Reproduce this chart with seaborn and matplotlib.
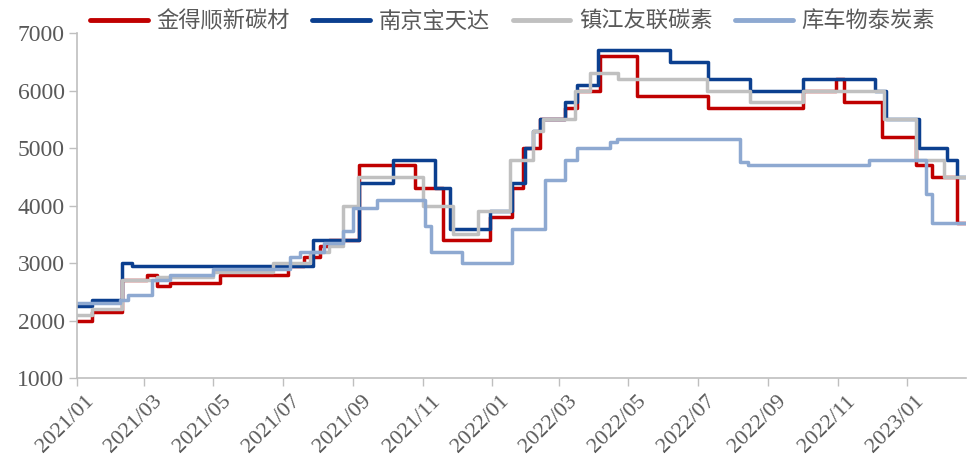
import matplotlib
matplotlib.use('Agg')
import matplotlib.pyplot as plt
import matplotlib.dates as mdates
import matplotlib.transforms as mtransforms
import seaborn as sns
import pandas as pd

series_names = ['金得顺新碳材', '南京宝天达', '镇江友联碳素', '库车物泰炭素']
colors = ['#C00000', '#0B3F8F', '#C0C0C0', '#8EA9D1']
end_date = '2023-02-22'

jds_dates = ['2021-01-01', '2021-01-14', '2021-02-10', '2021-03-04', '2021-03-12', '2021-03-24',
             '2021-05-07', '2021-07-06', '2021-07-20', '2021-08-03', '2021-08-11', '2021-09-06',
             '2021-10-25', '2021-11-19', '2021-12-30', '2022-01-19', '2022-01-28', '2022-02-12',
             '2022-03-06', '2022-03-17', '2022-04-06', '2022-05-09', '2022-07-10', '2022-10-02',
             '2022-10-31', '2022-11-07', '2022-12-10', '2023-01-09', '2023-01-23', '2023-02-14']
jds_vals = [2000, 2150, 2700, 2800, 2600, 2650,
            2800, 2950, 3100, 3300, 3400, 4700,
            4300, 3400, 3800, 4300, 5000, 5500,
            5700, 6000, 6600, 5900, 5700, 6000,
            6200, 5800, 5200, 4700, 4500, 3700]

njbtd_dates = ['2021-01-01', '2021-01-14', '2021-02-10', '2021-02-18', '2021-07-28', '2021-09-06',
               '2021-10-06', '2021-11-12', '2021-11-25', '2021-12-30', '2022-01-19', '2022-01-30',
               '2022-02-06', '2022-02-12', '2022-03-06', '2022-03-17', '2022-04-04', '2022-06-07',
               '2022-07-10', '2022-08-16', '2022-10-02', '2022-12-04', '2022-12-14', '2023-01-12',
               '2023-02-05', '2023-02-14']
njbtd_vals = [2250, 2350, 3000, 2950, 3400, 4400,
              4800, 4300, 3600, 3900, 4400, 5000,
              5300, 5500, 5800, 6100, 6700, 6500,
              6200, 6000, 6200, 6000, 5500, 5000,
              4800, 4500]

zjyl_dates = ['2021-01-01', '2021-01-14', '2021-02-10', '2021-03-12', '2021-05-01', '2021-06-22',
              '2021-07-25', '2021-08-11', '2021-08-23', '2021-09-05', '2021-11-01', '2021-11-28',
              '2021-12-20', '2022-01-17', '2022-02-06', '2022-02-15', '2022-03-15', '2022-03-28',
              '2022-04-22', '2022-07-09', '2022-08-16', '2022-10-02', '2022-12-12', '2023-01-09',
              '2023-02-03']
zjyl_vals = [2100, 2200, 2700, 2750, 2850, 3000,
             3200, 3300, 4000, 4500, 4000, 3500,
             3900, 4800, 5300, 5500, 6000, 6300,
             6200, 6000, 5800, 6000, 5500, 4800,
             4500]

kcwt_dates = ['2021-01-01', '2021-02-08', '2021-02-15', '2021-03-08', '2021-03-24', '2021-05-01',
              '2021-07-07', '2021-07-16', '2021-08-06', '2021-08-23', '2021-09-01', '2021-09-22',
              '2021-11-03', '2021-11-08', '2021-12-06', '2022-01-19', '2022-02-17', '2022-03-06',
              '2022-03-17', '2022-04-15', '2022-04-21', '2022-08-07', '2022-08-14', '2022-11-29',
              '2023-01-18', '2023-01-23']
kcwt_vals = [2300, 2350, 2450, 2700, 2800, 2900,
             3100, 3200, 3350, 3550, 3950, 4100,
             3650, 3200, 3000, 3600, 4450, 4800,
             5000, 5100, 5150, 4750, 4700, 4800,
             4200, 3700]

sns.set_theme(style='white')
plt.rcParams['font.family'] = ['Liberation Serif', 'Noto Sans CJK SC']

frames = []
for name, d, v in zip(series_names,
                      [jds_dates, njbtd_dates, zjyl_dates, kcwt_dates],
                      [jds_vals, njbtd_vals, zjyl_vals, kcwt_vals]):
    frames.append(pd.DataFrame({'date': pd.to_datetime(list(d) + [end_date]),
                                'price': list(v) + [v[-1]],
                                'name': name}))
df = pd.concat(frames, ignore_index=True)

fig = plt.figure(figsize=(9.76, 4.73), dpi=100)
ax = fig.add_axes([0.0789, 0.2008, 0.9109, 0.7294])
sns.lineplot(data=df, x='date', y='price', hue='name', hue_order=series_names,
             palette=colors, drawstyle='steps-post', linewidth=2.5, estimator=None,
             ax=ax)

ax.set_xlim(pd.Timestamp('2021-01-01'), pd.Timestamp(end_date))
ax.set_ylim(1000, 7000)
ax.set_yticks(range(1000, 7001, 1000))
ax.xaxis.set_major_locator(mdates.MonthLocator(bymonth=[1, 3, 5, 7, 9, 11]))
ax.xaxis.set_major_formatter(mdates.DateFormatter('%Y/%m'))
ax.set_xlabel('')
ax.set_ylabel('')

for s in ['top', 'right']:
    ax.spines[s].set_visible(False)
for s in ['left', 'bottom']:
    ax.spines[s].set_color('#BFBFBF')
    ax.spines[s].set_linewidth(1.2)

ax.tick_params(axis='both', which='major', direction='out', length=6, width=1,
               color='#BFBFBF', labelcolor='#595959')
ax.tick_params(axis='y', labelsize=17, pad=3, left=True)
ax.tick_params(axis='x', labelsize=16, pad=4, bottom=True)

offset = mtransforms.ScaledTranslation(8 / 100, 0, fig.dpi_scale_trans)
for lab in ax.get_xticklabels():
    lab.set_rotation(45)
    lab.set_ha('right')
    lab.set_va('top')
    lab.set_rotation_mode('anchor')
    lab.set_transform(lab.get_transform() + offset)

sns.move_legend(ax, 'lower center', bbox_to_anchor=(0.49, 0.975), ncol=4, frameon=False,
                title=None, fontsize=16, handlelength=2.6, handletextpad=0.4,
                columnspacing=1.0, borderaxespad=0.0)
leg = ax.get_legend()
for t in leg.get_texts():
    t.set_color('#595959')
for h in leg.get_lines():
    h.set_linewidth(3.5)

fig.savefig('out.png', dpi=100)
